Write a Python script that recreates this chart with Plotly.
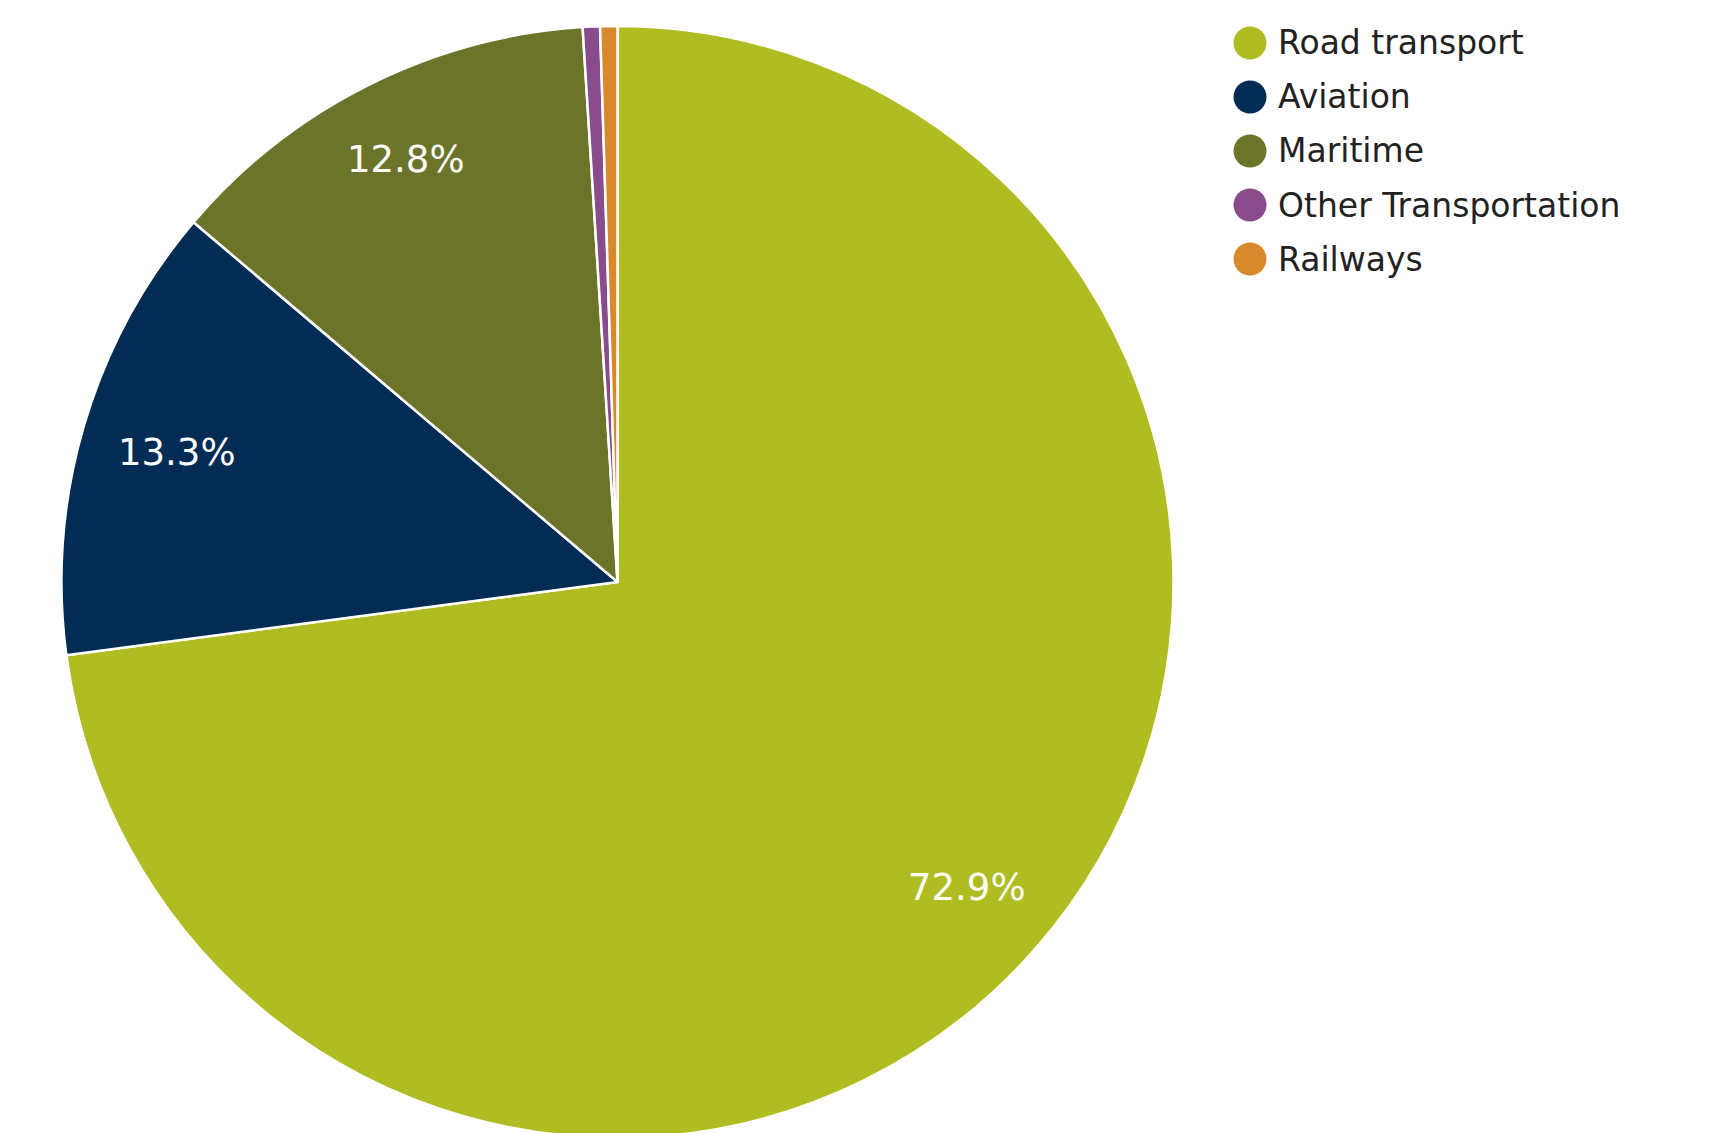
import math
import plotly.graph_objects as go

labels = ['Road transport', 'Aviation', 'Maritime', 'Other Transportation', 'Railways']
shares = [72.9, 13.3, 12.8, 0.5, 0.5]
colors = ['#AFBD22', '#032C54', '#6C7429', '#884B8C', '#D8892B']
show_text = [True, True, True, False, False]
label_r = [0.835, 0.825, 0.85, 0, 0]  # radial place of the % labels

W, H = 1728, 1133
OFF = 8  # page body margin

# pie box in screen pixels
cx, cy, R = 617.5 - OFF, 582 - OFF, 556
left, right, top, bottom = cx - R, cx + R, cy - R, cy + R

fig = go.Figure(go.Pie(
    labels=labels,
    values=shares,
    sort=False,
    direction='clockwise',
    rotation=0,
    marker=dict(colors=colors, line=dict(color='white', width=2.5)),
    textinfo='none',
    showlegend=False,
    domain=dict(x=[left / W, right / W], y=[1 - bottom / H, 1 - top / H]),
))

# percent labels at the middle of each slice, towards the rim
total = sum(shares)
acc = 0
for val, show, rf in zip(shares, show_text, label_r):
    mid = (acc + val / 2) / total * 2 * math.pi
    acc += val
    if not show:
        continue
    px_ = cx + rf * R * math.sin(mid)
    py_ = cy - rf * R * math.cos(mid)
    fig.add_annotation(x=px_ / W, y=1 - py_ / H, xref='paper', yref='paper',
                       text='%.1f%%' % (val / total * 100), showarrow=False,
                       xanchor='center', yanchor='middle',
                       font=dict(family='Verdana, DejaVu Sans', size=37, color='white'))

# legend drawn by hand to get the big round markers
for i, (lab, col) in enumerate(zip(labels, colors)):
    yc = 1 - (43 - OFF + 54 * i) / H
    fig.add_shape(type='circle', xref='paper', yref='paper',
                  xsizemode='pixel', ysizemode='pixel',
                  xanchor=(1250 - OFF) / W, yanchor=yc,
                  x0=-16.5, x1=16.5, y0=-16.5, y1=16.5,
                  fillcolor=col, line=dict(width=0))
    fig.add_annotation(x=(1276 - OFF) / W, y=yc, xref='paper', yref='paper',
                       text=lab, showarrow=False, xanchor='left', yanchor='middle',
                       font=dict(family='Verdana, DejaVu Sans', size=33, color='#222222'))

fig.update_layout(width=W, height=H, margin=dict(l=0, r=0, t=0, b=0),
                  paper_bgcolor='white', plot_bgcolor='white')

fig.write_html("out.html")
